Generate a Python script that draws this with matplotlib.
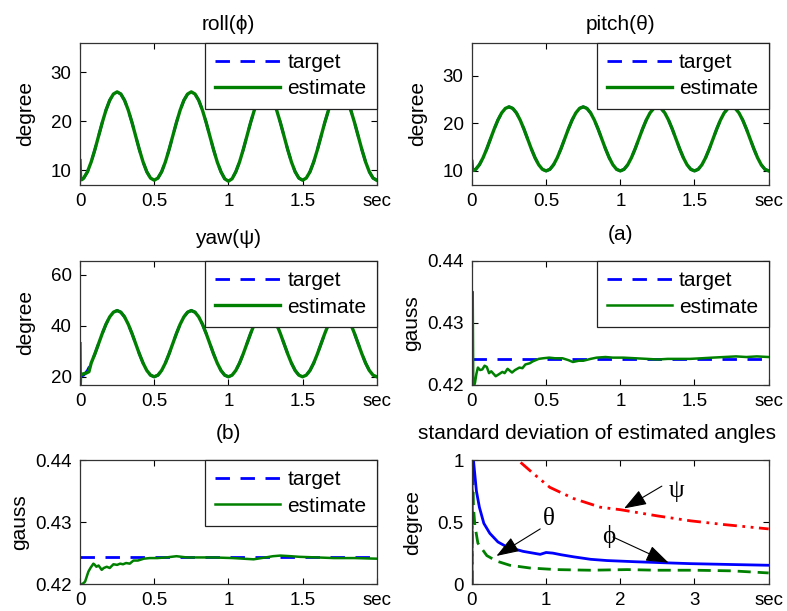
import numpy as np
import matplotlib
matplotlib.use("Agg")
import matplotlib.pyplot as plt

plt.rcParams['font.family'] = ['Liberation Sans', 'DejaVu Sans']

# ---- attitude panels: time grid (sec) and values ----
t_att = np.linspace(0, 2, 81)

roll_target = [8.0, 8.44, 9.72, 11.71, 14.22, 17.0, 19.78, 22.29, 24.28, 25.56, 26.0,
               25.56, 24.28, 22.29, 19.78, 17.0, 14.22, 11.71, 9.72, 8.44, 8.0,
               8.44, 9.72, 11.71, 14.22, 17.0, 19.78, 22.29, 24.28, 25.56, 26.0,
               25.56, 24.28, 22.29, 19.78, 17.0, 14.22, 11.71, 9.72, 8.3, 7.8,
               8.3, 9.72, 11.71, 14.22, 17.0, 19.78, 22.29, 24.28, 25.56, 26.0,
               25.56, 24.28, 22.29, 19.78, 17.0, 14.22, 11.71, 9.72, 8.44, 8.0,
               8.44, 9.72, 11.71, 14.22, 17.0, 19.78, 22.29, 24.28, 25.56, 26.0,
               25.56, 24.28, 22.29, 19.78, 17.0, 14.22, 11.71, 9.72, 8.44, 8.0]
pitch_target = [10.0, 10.33, 11.29, 12.78, 14.66, 16.75, 18.84, 20.72, 22.21, 23.17, 23.5,
                23.17, 22.21, 20.72, 18.84, 16.75, 14.66, 12.78, 11.29, 10.33, 10.0,
                10.33, 11.29, 12.78, 14.66, 16.75, 18.84, 20.72, 22.21, 23.17, 23.5,
                23.17, 22.21, 20.72, 18.84, 16.75, 14.66, 12.78, 11.29, 10.33, 10.0,
                10.33, 11.29, 12.78, 14.66, 16.75, 18.84, 20.72, 22.21, 23.17, 23.5,
                23.17, 22.21, 20.72, 18.84, 16.75, 14.66, 12.78, 11.29, 10.33, 10.0,
                10.33, 11.29, 12.78, 14.66, 16.75, 18.84, 20.72, 22.21, 23.17, 23.5,
                23.17, 22.21, 20.72, 18.84, 16.75, 14.66, 12.78, 11.29, 10.33, 10.0]
yaw_target = [20.0, 20.64, 22.48, 25.36, 28.98, 33.0, 37.02, 40.64, 43.52, 45.36, 46.0,
              45.36, 43.52, 40.64, 37.02, 33.0, 28.98, 25.36, 22.48, 20.64, 20.0,
              20.64, 22.48, 25.36, 28.98, 33.0, 37.02, 40.64, 43.52, 45.36, 46.0,
              45.36, 43.52, 40.64, 37.02, 33.0, 28.98, 25.36, 22.48, 20.64, 20.0,
              20.64, 22.48, 25.36, 28.98, 33.0, 37.02, 40.64, 43.52, 45.36, 46.0,
              45.36, 43.52, 40.64, 37.02, 33.0, 28.98, 25.36, 22.48, 20.64, 20.0,
              20.64, 22.48, 25.36, 28.98, 33.0, 37.02, 40.64, 43.52, 45.36, 46.0,
              45.36, 43.52, 40.64, 37.02, 33.0, 28.98, 25.36, 22.48, 20.64, 20.0]

# estimates follow the target except for the first few samples
roll_est_head_t = [0.0, 0.004, 0.012]
roll_est_head = [12.0, 8.3, 8.1]
pitch_est_head_t = [0.0, 0.004, 0.012]
pitch_est_head = [12.0, 10.2, 10.1]
yaw_est_head_t = [0.0, 0.002, 0.004, 0.012, 0.04, 0.06]
yaw_est_head = [33.0, 17.0, 21.0, 21.0, 21.4, 22.0]

# ---- magnetometer norm (gauss) ----
mag_a_target = 0.4242
mag_a_t = [0.0, 0.005, 0.009, 0.02, 0.03, 0.04, 0.055, 0.07, 0.085, 0.1, 0.115, 0.13, 0.145,
           0.16, 0.18, 0.205, 0.22, 0.24, 0.255, 0.27, 0.29, 0.32, 0.34, 0.36, 0.39, 0.41,
           0.45, 0.48, 0.52, 0.56, 0.61, 0.65, 0.68, 0.72, 0.75, 0.8, 0.84, 0.9, 0.95, 1.02,
           1.1, 1.18, 1.25, 1.32, 1.4, 1.47, 1.55, 1.62, 1.7, 1.78, 1.85, 1.92, 2.0]
mag_a_est = [0.4195, 0.4350, 0.4195, 0.4203, 0.4218, 0.4228, 0.4224, 0.4225, 0.4231, 0.4229,
             0.4219, 0.4222, 0.4218, 0.4214, 0.4217, 0.4221, 0.4219, 0.4226, 0.4223, 0.4220,
             0.4224, 0.4228, 0.4227, 0.4233, 0.4235, 0.4238, 0.4242, 0.4243, 0.4244, 0.4243,
             0.4243, 0.4240, 0.4237, 0.4239, 0.4239, 0.4242, 0.4244, 0.4245, 0.4244, 0.4244,
             0.4243, 0.4242, 0.4241, 0.4242, 0.4242, 0.4242, 0.4243, 0.4244, 0.4245, 0.4246,
             0.4245, 0.4246, 0.4245]

mag_b_target = 0.4244
mag_b_t = [0.0, 0.01, 0.02, 0.034, 0.045, 0.056, 0.07, 0.09, 0.1, 0.11, 0.125, 0.146, 0.16,
           0.18, 0.2, 0.225, 0.25, 0.27, 0.29, 0.31, 0.335, 0.36, 0.39, 0.43, 0.47, 0.52,
           0.58, 0.65, 0.72, 0.81, 0.9, 1.03, 1.1, 1.17, 1.25, 1.3, 1.35, 1.42, 1.48, 1.6,
           1.71, 1.85, 2.0]
mag_b_est = [0.4195, 0.4200, 0.4201, 0.4204, 0.4212, 0.4220, 0.4226, 0.4233, 0.4231, 0.4228,
             0.4230, 0.4223, 0.4226, 0.4228, 0.4226, 0.4232, 0.4231, 0.4233, 0.4232, 0.4234,
             0.4233, 0.4238, 0.4238, 0.4241, 0.4242, 0.4242, 0.4243, 0.4245, 0.4243, 0.4243,
             0.4243, 0.4242, 0.4241, 0.4240, 0.4243, 0.4245, 0.4246, 0.4245, 0.4244, 0.4243,
             0.4242, 0.4242, 0.4241]

# ---- standard deviation of estimated angles (degree) ----
sd_phi_t = [0.0, 0.002, 0.02, 0.06, 0.1, 0.16, 0.24, 0.35, 0.47, 0.69, 0.92, 1.0, 1.09,
            1.2, 1.37, 1.6, 1.82, 2.22, 2.6, 2.95, 3.5, 4.0]
sd_phi = [0.0, 1.3, 1.0, 0.75, 0.62, 0.49, 0.41, 0.34, 0.30, 0.264, 0.24, 0.255, 0.25,
          0.237, 0.22, 0.20, 0.19, 0.18, 0.172, 0.165, 0.158, 0.152]
sd_theta_t = [0.0, 0.005, 0.01, 0.02, 0.04, 0.08, 0.2, 0.33, 0.51, 0.78, 1.14, 1.6, 2.09,
              2.5, 3.0, 3.5, 4.0]
sd_theta = [0.0, 1.5, 1.0, 0.62, 0.47, 0.33, 0.23, 0.186, 0.152, 0.13, 0.117, 0.112, 0.117,
            0.112, 0.112, 0.107, 0.09]
sd_psi_t = [0.0, 0.003, 0.3, 0.45, 0.62, 0.83, 1.05, 1.37, 1.73, 2.0, 2.5, 2.95, 3.4, 4.0]
sd_psi = [0.0, 5.0, 1.6, 1.2, 1.0, 0.89, 0.78, 0.69, 0.62, 0.60, 0.55, 0.51, 0.48, 0.445]

TICK_FS = 13.5
TXT_FS = 15
GREEN = '#008000'
DASH = (0, (5.2, 3.8))


def style(ax, xmax, xticks, xlabels):
    ax.set_xlim(0, xmax)
    ax.set_xticks(xticks)
    ax.set_xticklabels(xlabels)
    ax.tick_params(direction='in', top=True, right=True, labelsize=TICK_FS,
                   length=4, width=0.8, pad=6)
    for s in ax.spines.values():
        s.set_linewidth(0.9)
        s.set_color('#333333')


def legend(ax):
    leg = ax.legend(['target', 'estimate'], loc='upper right', fontsize=TXT_FS,
                    borderaxespad=0, fancybox=False, framealpha=1, edgecolor='#222222',
                    handlelength=3.1, handletextpad=0.35, borderpad=0.5, labelspacing=0.35)
    leg.get_frame().set_linewidth(0.9)


fig = plt.figure(figsize=(7.87, 6.11), dpi=100)
lx, rx, w = 0.1017, 0.5997, 0.377
ax1 = fig.add_axes([lx, 0.697, w, 0.233])
ax2 = fig.add_axes([rx, 0.697, w, 0.233])
ax3 = fig.add_axes([lx, 0.370, w, 0.203])
ax4 = fig.add_axes([rx, 0.370, w, 0.203])
ax5 = fig.add_axes([lx, 0.044, w, 0.203])
ax6 = fig.add_axes([rx, 0.044, w, 0.203])

xt2 = [0, 0.5, 1, 1.5, 2]
xl2 = ['0', '0.5', '1', '1.5', 'sec']

panels = [(ax1, roll_target, roll_est_head_t, roll_est_head, 'roll(ϕ)', (7, 36), [10, 20, 30], 9),
          (ax2, pitch_target, pitch_est_head_t, pitch_est_head, 'pitch(θ)', (7, 37), [10, 20, 30], 9),
          (ax3, yaw_target, yaw_est_head_t, yaw_est_head, 'yaw(ψ)', (16.8, 65.5), [20, 40, 60], 12)]
for ax, tgt, ht, hv, title, ylim, yt, pad in panels:
    est_t = list(ht) + [x for x in t_att if x > ht[-1]]
    est_v = list(hv) + [v for x, v in zip(t_att, tgt) if x > ht[-1]]
    ax.plot(t_att, tgt, color='blue', ls=DASH, lw=2.0)
    ax.plot(est_t, est_v, color=GREEN, lw=2.4)
    ax.set_ylim(*ylim)
    ax.set_yticks(yt)
    ax.set_ylabel('degree', fontsize=TXT_FS, labelpad=11)
    ax.set_title(title, fontsize=TXT_FS, pad=pad)
    style(ax, 2, xt2, xl2)
    legend(ax)

for ax, tgt, tt, ev, title in [(ax4, mag_a_target, mag_a_t, mag_a_est, '(a)'),
                               (ax5, mag_b_target, mag_b_t, mag_b_est, '(b)')]:
    ax.plot([0, 2], [tgt, tgt], color='blue', ls=DASH, lw=2.0)
    ax.plot(tt, ev, color=GREEN, lw=1.8)
    ax.set_ylim(0.42, 0.44)
    ax.set_yticks([0.42, 0.43, 0.44])
    ax.set_yticklabels(['0.42', '0.43', '0.44'])
    ax.set_ylabel('gauss', fontsize=TXT_FS)
    ax.set_title(title, fontsize=TXT_FS, pad=15)
    style(ax, 2, xt2, xl2)
    legend(ax)

ax6.plot(sd_psi_t, sd_psi, color='red', lw=2.0, ls=(0, (5, 2, 1, 2, 1, 2)))
ax6.plot(sd_theta_t, sd_theta, color=GREEN, lw=2.0, ls=(0, (4.7, 2.5)))
ax6.plot(sd_phi_t, sd_phi, color='blue', lw=2.0)
ax6.set_ylim(0, 1)
ax6.set_yticks([0, 0.5, 1])
ax6.set_yticklabels(['0', '0.5', '1'])
ax6.set_ylabel('degree', fontsize=TXT_FS, labelpad=11)
ax6.set_title('standard deviation of estimated angles', fontsize=TXT_FS, pad=15, x=0.422)
style(ax6, 4, [0, 1, 2, 3, 4], ['0', '1', '2', '3', 'sec'])

arrow = dict(arrowstyle='-|>,head_length=1.4,head_width=0.5', color='black', lw=0.8,
             shrinkA=0, shrinkB=0)
greek = ['Liberation Serif', 'DejaVu Serif']
ax6.annotate('', xy=(2.05, 0.61), xytext=(2.56, 0.79), arrowprops=arrow)
ax6.text(2.65, 0.75, 'ψ', fontsize=TXT_FS + 3, family=greek, ha='left', va='center')
ax6.annotate('', xy=(0.33, 0.227), xytext=(0.92, 0.445), arrowprops=arrow)
ax6.text(1.03, 0.525, 'θ', fontsize=TXT_FS + 3, family=greek, ha='center', va='center')
ax6.annotate('', xy=(2.65, 0.173), xytext=(1.9, 0.38), arrowprops=arrow)
ax6.text(1.84, 0.38, 'ϕ', fontsize=TXT_FS + 3, family=greek, ha='center', va='center')

fig.savefig('out.png', dpi=100)
